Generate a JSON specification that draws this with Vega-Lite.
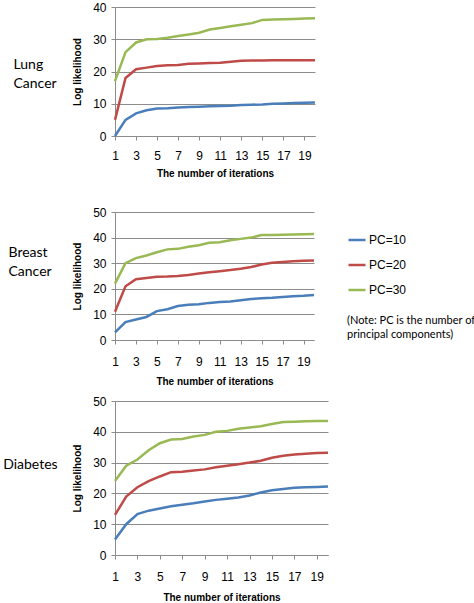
{
  "$schema": "https://vega.github.io/schema/vega-lite/v6.json",
  "padding": {"left": 3, "top": 1, "right": 0, "bottom": 0},
  "background": "white",
  "datasets": {
    "lung": [
      {"iter": 1, "pc": "PC=10", "ll": 0}, {"iter": 2, "pc": "PC=10", "ll": 5}, {"iter": 3, "pc": "PC=10", "ll": 7}, {"iter": 4, "pc": "PC=10", "ll": 8},
      {"iter": 5, "pc": "PC=10", "ll": 8.5}, {"iter": 6, "pc": "PC=10", "ll": 8.6}, {"iter": 7, "pc": "PC=10", "ll": 8.8}, {"iter": 8, "pc": "PC=10", "ll": 9},
      {"iter": 9, "pc": "PC=10", "ll": 9.1}, {"iter": 10, "pc": "PC=10", "ll": 9.2}, {"iter": 11, "pc": "PC=10", "ll": 9.3}, {"iter": 12, "pc": "PC=10", "ll": 9.4},
      {"iter": 13, "pc": "PC=10", "ll": 9.6}, {"iter": 14, "pc": "PC=10", "ll": 9.7}, {"iter": 15, "pc": "PC=10", "ll": 9.8}, {"iter": 16, "pc": "PC=10", "ll": 10},
      {"iter": 17, "pc": "PC=10", "ll": 10.1}, {"iter": 18, "pc": "PC=10", "ll": 10.2}, {"iter": 19, "pc": "PC=10", "ll": 10.3}, {"iter": 20, "pc": "PC=10", "ll": 10.4},
      {"iter": 1, "pc": "PC=20", "ll": 5}, {"iter": 2, "pc": "PC=20", "ll": 18}, {"iter": 3, "pc": "PC=20", "ll": 20.7}, {"iter": 4, "pc": "PC=20", "ll": 21.2},
      {"iter": 5, "pc": "PC=20", "ll": 21.7}, {"iter": 6, "pc": "PC=20", "ll": 21.9}, {"iter": 7, "pc": "PC=20", "ll": 22}, {"iter": 8, "pc": "PC=20", "ll": 22.4},
      {"iter": 9, "pc": "PC=20", "ll": 22.5}, {"iter": 10, "pc": "PC=20", "ll": 22.6}, {"iter": 11, "pc": "PC=20", "ll": 22.7}, {"iter": 12, "pc": "PC=20", "ll": 23},
      {"iter": 13, "pc": "PC=20", "ll": 23.3}, {"iter": 14, "pc": "PC=20", "ll": 23.4}, {"iter": 15, "pc": "PC=20", "ll": 23.4}, {"iter": 16, "pc": "PC=20", "ll": 23.5},
      {"iter": 17, "pc": "PC=20", "ll": 23.5}, {"iter": 18, "pc": "PC=20", "ll": 23.5}, {"iter": 19, "pc": "PC=20", "ll": 23.5}, {"iter": 20, "pc": "PC=20", "ll": 23.5},
      {"iter": 1, "pc": "PC=30", "ll": 17}, {"iter": 2, "pc": "PC=30", "ll": 26}, {"iter": 3, "pc": "PC=30", "ll": 29}, {"iter": 4, "pc": "PC=30", "ll": 30},
      {"iter": 5, "pc": "PC=30", "ll": 30.1}, {"iter": 6, "pc": "PC=30", "ll": 30.5}, {"iter": 7, "pc": "PC=30", "ll": 31}, {"iter": 8, "pc": "PC=30", "ll": 31.5},
      {"iter": 9, "pc": "PC=30", "ll": 32}, {"iter": 10, "pc": "PC=30", "ll": 33}, {"iter": 11, "pc": "PC=30", "ll": 33.5}, {"iter": 12, "pc": "PC=30", "ll": 34},
      {"iter": 13, "pc": "PC=30", "ll": 34.5}, {"iter": 14, "pc": "PC=30", "ll": 35}, {"iter": 15, "pc": "PC=30", "ll": 36}, {"iter": 16, "pc": "PC=30", "ll": 36.1},
      {"iter": 17, "pc": "PC=30", "ll": 36.2}, {"iter": 18, "pc": "PC=30", "ll": 36.3}, {"iter": 19, "pc": "PC=30", "ll": 36.4}, {"iter": 20, "pc": "PC=30", "ll": 36.5}
    ],
    "breast": [
      {"iter": 1, "pc": "PC=10", "ll": 3}, {"iter": 2, "pc": "PC=10", "ll": 7}, {"iter": 3, "pc": "PC=10", "ll": 8}, {"iter": 4, "pc": "PC=10", "ll": 9},
      {"iter": 5, "pc": "PC=10", "ll": 11.3}, {"iter": 6, "pc": "PC=10", "ll": 12}, {"iter": 7, "pc": "PC=10", "ll": 13.3}, {"iter": 8, "pc": "PC=10", "ll": 13.8},
      {"iter": 9, "pc": "PC=10", "ll": 14}, {"iter": 10, "pc": "PC=10", "ll": 14.5}, {"iter": 11, "pc": "PC=10", "ll": 14.8}, {"iter": 12, "pc": "PC=10", "ll": 15},
      {"iter": 13, "pc": "PC=10", "ll": 15.5}, {"iter": 14, "pc": "PC=10", "ll": 16}, {"iter": 15, "pc": "PC=10", "ll": 16.3}, {"iter": 16, "pc": "PC=10", "ll": 16.5},
      {"iter": 17, "pc": "PC=10", "ll": 16.8}, {"iter": 18, "pc": "PC=10", "ll": 17.1}, {"iter": 19, "pc": "PC=10", "ll": 17.3}, {"iter": 20, "pc": "PC=10", "ll": 17.6},
      {"iter": 1, "pc": "PC=20", "ll": 11}, {"iter": 2, "pc": "PC=20", "ll": 21}, {"iter": 3, "pc": "PC=20", "ll": 23.7}, {"iter": 4, "pc": "PC=20", "ll": 24.2},
      {"iter": 5, "pc": "PC=20", "ll": 24.7}, {"iter": 6, "pc": "PC=20", "ll": 24.8}, {"iter": 7, "pc": "PC=20", "ll": 25}, {"iter": 8, "pc": "PC=20", "ll": 25.4},
      {"iter": 9, "pc": "PC=20", "ll": 26}, {"iter": 10, "pc": "PC=20", "ll": 26.5}, {"iter": 11, "pc": "PC=20", "ll": 26.9}, {"iter": 12, "pc": "PC=20", "ll": 27.3},
      {"iter": 13, "pc": "PC=20", "ll": 27.8}, {"iter": 14, "pc": "PC=20", "ll": 28.5}, {"iter": 15, "pc": "PC=20", "ll": 29.5}, {"iter": 16, "pc": "PC=20", "ll": 30.2},
      {"iter": 17, "pc": "PC=20", "ll": 30.5}, {"iter": 18, "pc": "PC=20", "ll": 30.8}, {"iter": 19, "pc": "PC=20", "ll": 31}, {"iter": 20, "pc": "PC=20", "ll": 31.1},
      {"iter": 1, "pc": "PC=30", "ll": 22}, {"iter": 2, "pc": "PC=30", "ll": 30}, {"iter": 3, "pc": "PC=30", "ll": 32}, {"iter": 4, "pc": "PC=30", "ll": 33},
      {"iter": 5, "pc": "PC=30", "ll": 34.3}, {"iter": 6, "pc": "PC=30", "ll": 35.4}, {"iter": 7, "pc": "PC=30", "ll": 35.6}, {"iter": 8, "pc": "PC=30", "ll": 36.4},
      {"iter": 9, "pc": "PC=30", "ll": 37}, {"iter": 10, "pc": "PC=30", "ll": 38}, {"iter": 11, "pc": "PC=30", "ll": 38.2}, {"iter": 12, "pc": "PC=30", "ll": 39},
      {"iter": 13, "pc": "PC=30", "ll": 39.5}, {"iter": 14, "pc": "PC=30", "ll": 40}, {"iter": 15, "pc": "PC=30", "ll": 41}, {"iter": 16, "pc": "PC=30", "ll": 41},
      {"iter": 17, "pc": "PC=30", "ll": 41.1}, {"iter": 18, "pc": "PC=30", "ll": 41.2}, {"iter": 19, "pc": "PC=30", "ll": 41.3}, {"iter": 20, "pc": "PC=30", "ll": 41.4}
    ],
    "diabetes": [
      {"iter": 1, "pc": "PC=10", "ll": 5}, {"iter": 2, "pc": "PC=10", "ll": 10}, {"iter": 3, "pc": "PC=10", "ll": 13.3}, {"iter": 4, "pc": "PC=10", "ll": 14.4},
      {"iter": 5, "pc": "PC=10", "ll": 15.1}, {"iter": 6, "pc": "PC=10", "ll": 15.8}, {"iter": 7, "pc": "PC=10", "ll": 16.3}, {"iter": 8, "pc": "PC=10", "ll": 16.8},
      {"iter": 9, "pc": "PC=10", "ll": 17.4}, {"iter": 10, "pc": "PC=10", "ll": 17.9}, {"iter": 11, "pc": "PC=10", "ll": 18.3}, {"iter": 12, "pc": "PC=10", "ll": 18.7},
      {"iter": 13, "pc": "PC=10", "ll": 19.3}, {"iter": 14, "pc": "PC=10", "ll": 20.3}, {"iter": 15, "pc": "PC=10", "ll": 21}, {"iter": 16, "pc": "PC=10", "ll": 21.4},
      {"iter": 17, "pc": "PC=10", "ll": 21.8}, {"iter": 18, "pc": "PC=10", "ll": 22}, {"iter": 19, "pc": "PC=10", "ll": 22.1}, {"iter": 20, "pc": "PC=10", "ll": 22.2},
      {"iter": 1, "pc": "PC=20", "ll": 13}, {"iter": 2, "pc": "PC=20", "ll": 19}, {"iter": 3, "pc": "PC=20", "ll": 22}, {"iter": 4, "pc": "PC=20", "ll": 24},
      {"iter": 5, "pc": "PC=20", "ll": 25.5}, {"iter": 6, "pc": "PC=20", "ll": 26.9}, {"iter": 7, "pc": "PC=20", "ll": 27}, {"iter": 8, "pc": "PC=20", "ll": 27.4},
      {"iter": 9, "pc": "PC=20", "ll": 27.8}, {"iter": 10, "pc": "PC=20", "ll": 28.5}, {"iter": 11, "pc": "PC=20", "ll": 29}, {"iter": 12, "pc": "PC=20", "ll": 29.5},
      {"iter": 13, "pc": "PC=20", "ll": 30}, {"iter": 14, "pc": "PC=20", "ll": 30.6}, {"iter": 15, "pc": "PC=20", "ll": 31.6}, {"iter": 16, "pc": "PC=20", "ll": 32.2},
      {"iter": 17, "pc": "PC=20", "ll": 32.6}, {"iter": 18, "pc": "PC=20", "ll": 32.9}, {"iter": 19, "pc": "PC=20", "ll": 33.1}, {"iter": 20, "pc": "PC=20", "ll": 33.2},
      {"iter": 1, "pc": "PC=30", "ll": 24}, {"iter": 2, "pc": "PC=30", "ll": 29}, {"iter": 3, "pc": "PC=30", "ll": 31}, {"iter": 4, "pc": "PC=30", "ll": 34},
      {"iter": 5, "pc": "PC=30", "ll": 36.3}, {"iter": 6, "pc": "PC=30", "ll": 37.5}, {"iter": 7, "pc": "PC=30", "ll": 37.7}, {"iter": 8, "pc": "PC=30", "ll": 38.5},
      {"iter": 9, "pc": "PC=30", "ll": 39}, {"iter": 10, "pc": "PC=30", "ll": 40}, {"iter": 11, "pc": "PC=30", "ll": 40.3}, {"iter": 12, "pc": "PC=30", "ll": 41},
      {"iter": 13, "pc": "PC=30", "ll": 41.4}, {"iter": 14, "pc": "PC=30", "ll": 41.8}, {"iter": 15, "pc": "PC=30", "ll": 42.5}, {"iter": 16, "pc": "PC=30", "ll": 43.2},
      {"iter": 17, "pc": "PC=30", "ll": 43.3}, {"iter": 18, "pc": "PC=30", "ll": 43.4}, {"iter": 19, "pc": "PC=30", "ll": 43.5}, {"iter": 20, "pc": "PC=30", "ll": 43.5}
    ]
  },
  "spacing": 9,
  "vconcat": [
    {
      "width": 200,
      "height": 129,
      "title": {"text": ["Lung", "Cancer"], "orient": "left", "angle": 0, "align": "left", "baseline": "middle", "offset": 16, "anchor": "middle", "dy": -7},
      "data": {"name": "lung"},
      "mark": {"type": "line", "strokeWidth": 2.5},
      "encoding": {
        "x": {"field": "iter", "type": "quantitative", "scale": {"domain": [1, 20], "nice": false},
              "axis": {"values": [1, 3, 5, 7, 9, 11, 13, 15, 17, 19], "title": ["The number of iterations", ""], "labelPadding": 10, "titlePadding": 7, "titleLineHeight": 19}},
        "y": {"field": "ll", "type": "quantitative", "scale": {"domain": [0, 40], "nice": false},
              "axis": {"values": [0, 10, 20, 30, 40], "title": "Log likelihood"}},
        "color": {"field": "pc", "type": "nominal", "scale": {"domain": ["PC=10", "PC=20", "PC=30"], "range": ["#4A7EBB", "#BE4B48", "#98B954"]},
                  "legend": {"title": ["(Note: PC is the number of", "principal components)"]}}
      }
    },
    {
      "width": 199,
      "height": 128,
      "title": {"text": ["Breast", "Cancer"], "orient": "left", "angle": 0, "align": "left", "baseline": "middle", "offset": 21, "anchor": "middle", "dy": -23},
      "data": {"name": "breast"},
      "mark": {"type": "line", "strokeWidth": 2.5},
      "encoding": {
        "x": {"field": "iter", "type": "quantitative", "scale": {"domain": [1, 20], "nice": false},
              "axis": {"values": [1, 3, 5, 7, 9, 11, 13, 15, 17, 19], "title": "The number of iterations", "labelPadding": 12, "titlePadding": 9}},
        "y": {"field": "ll", "type": "quantitative", "scale": {"domain": [0, 50], "nice": false},
              "axis": {"values": [0, 10, 20, 30, 40, 50], "title": "Log likelihood"}},
        "color": {"field": "pc", "type": "nominal", "scale": {"domain": ["PC=10", "PC=20", "PC=30"], "range": ["#4A7EBB", "#BE4B48", "#98B954"]}}
      }
    },
    {
      "width": 213,
      "height": 154,
      "title": {"text": "Diabetes", "orient": "left", "angle": 0, "align": "left", "baseline": "middle", "offset": 15, "anchor": "middle", "dy": -13},
      "data": {"name": "diabetes"},
      "mark": {"type": "line", "strokeWidth": 2.5},
      "encoding": {
        "x": {"field": "iter", "type": "quantitative", "scale": {"domain": [1, 20], "nice": false},
              "axis": {"values": [1, 3, 5, 7, 9, 11, 13, 15, 17, 19], "title": "The number of iterations", "labelPadding": 12, "titlePadding": 10}},
        "y": {"field": "ll", "type": "quantitative", "scale": {"domain": [0, 50], "nice": false},
              "axis": {"values": [0, 10, 20, 30, 40, 50], "title": "Log likelihood"}},
        "color": {"field": "pc", "type": "nominal", "scale": {"domain": ["PC=10", "PC=20", "PC=30"], "range": ["#4A7EBB", "#BE4B48", "#98B954"]}}
      }
    }
  ],
  "resolve": {"scale": {"color": "shared"}, "legend": {"color": "shared"}},
  "config": {
    "font": "Liberation Sans",
    "view": {"stroke": null},
    "title": {"font": "Lato", "fontSize": 14, "fontWeight": "normal", "color": "black", "lineHeight": 19},
    "axis": {
      "labelFont": "Liberation Sans", "labelFontSize": 12, "labelColor": "black",
      "titleFont": "Liberation Sans", "titleFontSize": 10, "titleFontWeight": "bold", "titleColor": "black",
      "gridColor": "#8c8c8c", "gridWidth": 1, "domainColor": "#8c8c8c", "tickColor": "#8c8c8c", "tickSize": 4
    },
    "axisX": {"grid": false, "labelFlush": false},
    "axisY": {"labelPadding": 5, "titlePadding": 10},
    "legend": {
      "orient": "none", "legendX": 232, "legendY": 223,
      "titleOrient": "bottom", "titleAnchor": "start", "titleAlign": "left", "titleFont": "Lato", "titleFontSize": 11, "titleFontWeight": "normal",
      "titleColor": "black", "titleLineHeight": 14, "titlePadding": 19, "titleLimit": 0,
      "symbolType": "stroke", "symbolSize": 289, "symbolStrokeWidth": 2.5, "labelFont": "Liberation Sans", "labelFontSize": 12, "labelColor": "black",
      "labelOffset": 2, "rowPadding": 9, "padding": 0, "offset": 0
    }
  }
}
